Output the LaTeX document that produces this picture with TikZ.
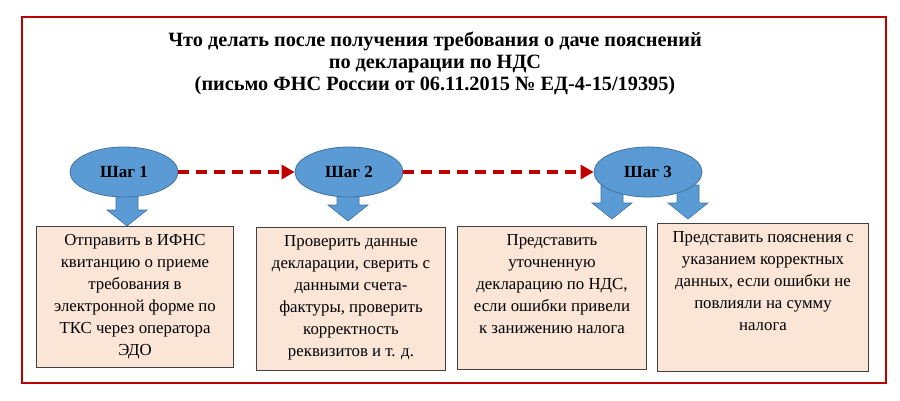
\documentclass[tikz,border=0pt]{standalone}
\usepackage{fontspec}
\setmainfont{Liberation Serif}
\usetikzlibrary{arrows.meta,shapes.geometric,positioning}
\definecolor{frame red}{RGB}{192,0,0}
\definecolor{step blue}{RGB}{91,155,213}
\definecolor{step line}{RGB}{65,113,156}
\definecolor{box fill}{RGB}{251,229,214}
\newcommand{\downarrowshape}[3]{% x, top y, tip y
  \filldraw[step line,fill=step blue,line width=0.6pt]
    (#1-11,#2) -- (#1+11,#2) -- (#1+11,#3-16) -- (#1+20,#3-16) -- (#1,#3)
    -- (#1-20,#3-16) -- (#1-11,#3-16) -- cycle;}
\begin{document}
\begin{tikzpicture}[x=1pt,y=-1pt,
    step node/.style={ellipse,draw=step line,fill=step blue,line width=0.8pt,
      minimum width=108pt,minimum height=50pt,font=\bfseries\fontsize{17}{19}\selectfont},
    task box/.style={draw=black!75,fill=box fill,line width=1pt,anchor=north west},
    task text/.style={align=center,anchor=north,yshift=-5pt,
      font=\fontsize{16.8}{22}\selectfont},
    flow/.style={frame red,line width=3.5pt,dash pattern=on 11pt off 7pt,
      -{Triangle[length=13pt,width=14pt]}}]
  \useasboundingbox (0,0) rectangle (900,400);
  \draw[frame red,line width=1.5pt] (22,17) rectangle (886,383);

  % title
  \node[align=center,font=\bfseries\fontsize{20.3}{22}\selectfont] (title) at (435,63)
    {Что делать после получения требования о даче пояснений\\
     по декларации по НДС\\
     (письмо ФНС России от 06.11.2015 № ЕД-4-15/19395)};

  % arrows into boxes
  \downarrowshape{127}{190}{226}
  \downarrowshape{348}{190}{221}
  \downarrowshape{612}{185}{219}
  \downarrowshape{688}{185}{219}

  % steps
  \node[step node] (s1) at (124,172) {Шаг 1};
  \node[step node] (s2) at (349,172) {Шаг 2};
  \node[step node] (s3) at (648,172) {Шаг 3};
  \draw[flow] (s1) -- (s2);
  \draw[flow] (s2) -- (s3);

  % boxes
  \node[task box,minimum width=197pt,minimum height=141pt] (b1) at (36,226) {};
  \node[task text] (t1) at (b1.north)
    {Отправить в ИФНС\\квитанцию о приеме\\требования в\\электронной форме по\\ТКС через оператора\\ЭДО};
  \node[task box,minimum width=189pt,minimum height=143pt] (b2) at (256,227) {};
  \node[task text] (t2) at (b2.north)
    {Проверить данные\\декларации, сверить с\\данными счета-\\фактуры, проверить\\корректность\\реквизитов и т. д.};
  \node[task box,minimum width=189pt,minimum height=143pt] (b3) at (457,226) {};
  \node[task text] (t3) at (b3.north)
    {Представить\\уточненную\\декларацию по НДС,\\если ошибки привели\\к занижению налога};
  \node[task box,minimum width=211pt,minimum height=148pt] (b4) at (657,223) {};
  \node[task text] (t4) at (b4.north)
    {Представить пояснения с\\указанием корректных\\данных, если ошибки не\\повлияли на сумму\\налога};
\end{tikzpicture}
\end{document}
